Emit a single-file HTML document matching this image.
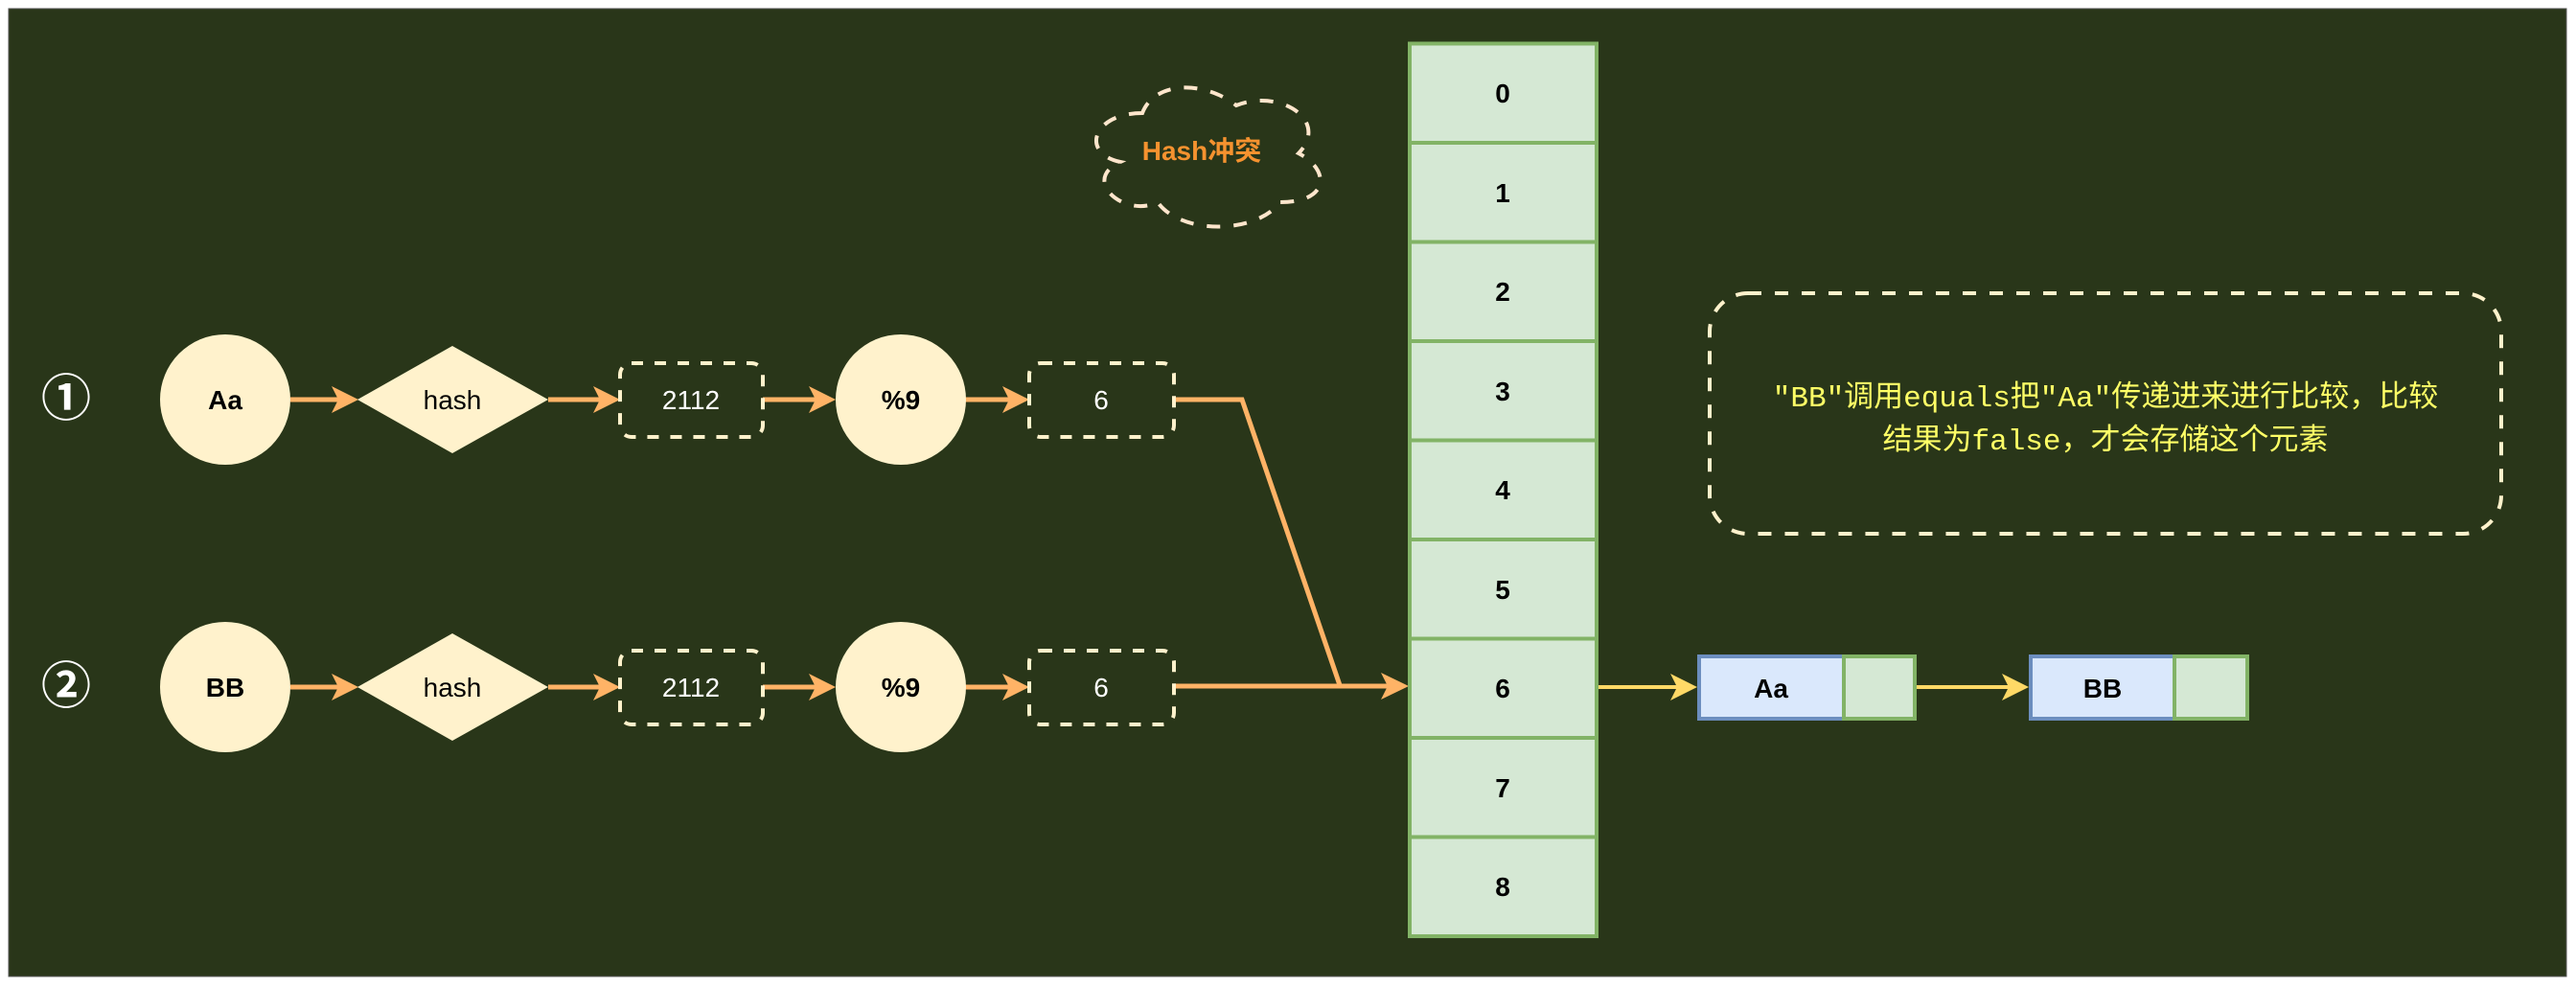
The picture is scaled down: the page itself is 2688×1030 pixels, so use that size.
<!DOCTYPE html>
<html><head><meta charset="utf-8"><style>
html,body{margin:0;padding:0;background:#fff;}
svg{display:block}
text{font-family:"Liberation Sans","Noto Sans CJK SC",sans-serif;}
text.mono{font-family:"Liberation Mono","Noto Sans CJK SC",monospace;}
</style></head><body>
<svg width="2688" height="1030" viewBox="0 0 2688 1030" xmlns="http://www.w3.org/2000/svg">
<rect x="0" y="0" width="2688" height="1030" fill="#ffffff"/>
<rect x="9" y="9" width="2669" height="1010" fill="#293619" stroke="#555" stroke-width="1"/>

<text x="69" y="434" font-size="52" font-weight="bold" fill="#fff" text-anchor="middle">①</text>
<text x="69" y="734" font-size="52" font-weight="bold" fill="#fff" text-anchor="middle">②</text>

<g stroke="#ffb366" stroke-width="5" fill="none">
<line x1="303" y1="417" x2="360" y2="417"/>
<line x1="572" y1="417" x2="632" y2="417"/>
<line x1="796" y1="417" x2="858" y2="417"/>
<line x1="1007" y1="417" x2="1060" y2="417"/>
<polyline points="1225,417 1296,417 1398,715"/>
<line x1="303" y1="717" x2="360" y2="717"/>
<line x1="572" y1="717" x2="632" y2="717"/>
<line x1="796" y1="717" x2="858" y2="717"/>
<line x1="1007" y1="717" x2="1060" y2="717"/>
<line x1="1225" y1="716" x2="1455" y2="716"/>
</g>
<g fill="#ffb366">
<polygon points="374,417 346,403 353,417 346,431"/>
<polygon points="647,417 619,403 626,417 619,431"/>
<polygon points="872,417 844,403 851,417 844,431"/>
<polygon points="1074,417 1046,403 1053,417 1046,431"/>
<polygon points="374,717 346,703 353,717 346,731"/>
<polygon points="647,717 619,703 626,717 619,731"/>
<polygon points="872,717 844,703 851,717 844,731"/>
<polygon points="1074,717 1046,703 1053,717 1046,731"/>
<polygon points="1470,716 1441,702 1448,716 1441,730"/>
</g>

<ellipse cx="235" cy="417" rx="68" ry="68" fill="#fff2cc"/>
<text x="235" y="427" font-size="28" font-weight="bold" text-anchor="middle" fill="#000">Aa</text>
<polygon points="373,417 472,361 572,417 472,473" fill="#fff2cc"/>
<text x="472" y="427" font-size="28" text-anchor="middle" fill="#000">hash</text>
<rect x="647" y="379" width="149" height="77" rx="12" fill="none" stroke="#fff2cc" stroke-width="4" stroke-dasharray="12,12"/>
<text x="721" y="427" font-size="28" text-anchor="middle" fill="#fff">2112</text>
<ellipse cx="940" cy="417" rx="68" ry="68" fill="#fff2cc"/>
<text x="940" y="427" font-size="28" font-weight="bold" text-anchor="middle" fill="#000">%9</text>
<rect x="1074" y="379" width="151" height="77" rx="12" fill="none" stroke="#fff2cc" stroke-width="4" stroke-dasharray="12,12"/>
<text x="1149" y="427" font-size="28" text-anchor="middle" fill="#fff">6</text>

<ellipse cx="235" cy="717" rx="68" ry="68" fill="#fff2cc"/>
<text x="235" y="727" font-size="28" font-weight="bold" text-anchor="middle" fill="#000">BB</text>
<polygon points="373,717 472,661 572,717 472,773" fill="#fff2cc"/>
<text x="472" y="727" font-size="28" text-anchor="middle" fill="#000">hash</text>
<rect x="647" y="679" width="149" height="77" rx="12" fill="none" stroke="#fff2cc" stroke-width="4" stroke-dasharray="12,12"/>
<text x="721" y="727" font-size="28" text-anchor="middle" fill="#fff">2112</text>
<ellipse cx="940" cy="717" rx="68" ry="68" fill="#fff2cc"/>
<text x="940" y="727" font-size="28" font-weight="bold" text-anchor="middle" fill="#000">%9</text>
<rect x="1074" y="679" width="151" height="77" rx="12" fill="none" stroke="#fff2cc" stroke-width="4" stroke-dasharray="12,12"/>
<text x="1149" y="727" font-size="28" text-anchor="middle" fill="#fff">6</text>

<path d="M1192,118 C1140,118 1127,160 1169,169 C1127,188 1174,228 1208,211 C1232,245 1310,245 1336,211 C1388,211 1388,177 1355,160 C1388,126 1336,92 1290,110 C1257,84 1205,84 1192,118 Z" fill="none" stroke="#ffe6cc" stroke-width="4" stroke-dasharray="14,14"/>
<text x="1254" y="167" font-size="28" font-weight="bold" text-anchor="middle" fill="#f5922f">Hash冲突</text>

<g fill="#d5e8d4" stroke="#82b366" stroke-width="4">
<rect x="1471" y="45.5" width="195" height="103.5"/>
<rect x="1471" y="149" width="195" height="103.5"/>
<rect x="1471" y="252.5" width="195" height="103.5"/>
<rect x="1471" y="356" width="195" height="103.5"/>
<rect x="1471" y="459.5" width="195" height="103.5"/>
<rect x="1471" y="563" width="195" height="103.5"/>
<rect x="1471" y="666.5" width="195" height="103.5"/>
<rect x="1471" y="770" width="195" height="103.5"/>
<rect x="1471" y="873.5" width="195" height="103.5"/>
</g>
<g font-size="28" font-weight="bold" text-anchor="middle" fill="#000">
<text x="1568" y="107">0</text>
<text x="1568" y="211">1</text>
<text x="1568" y="314">2</text>
<text x="1568" y="418">3</text>
<text x="1568" y="521">4</text>
<text x="1568" y="625">5</text>
<text x="1568" y="728">6</text>
<text x="1568" y="832">7</text>
<text x="1568" y="935">8</text>
</g>

<g stroke="#ffd966" stroke-width="4">
<line x1="1668" y1="717" x2="1756" y2="717"/>
<line x1="1998" y1="717" x2="2102" y2="717"/>
</g>
<g fill="#ffd966">
<polygon points="1771,717 1743,703 1750,717 1743,731"/>
<polygon points="2117,717 2089,703 2096,717 2089,731"/>
</g>

<rect x="1773" y="685" width="151" height="65" fill="#dae8fc" stroke="#6c8ebf" stroke-width="4"/>
<rect x="1924" y="685" width="74" height="65" fill="#d5e8d4" stroke="#82b366" stroke-width="4"/>
<text x="1848" y="728" font-size="28" font-weight="bold" text-anchor="middle" fill="#000">Aa</text>
<rect x="2119" y="685" width="150" height="65" fill="#dae8fc" stroke="#6c8ebf" stroke-width="4"/>
<rect x="2269" y="685" width="76" height="65" fill="#d5e8d4" stroke="#82b366" stroke-width="4"/>
<text x="2194" y="728" font-size="28" font-weight="bold" text-anchor="middle" fill="#000">BB</text>

<rect x="1784" y="306" width="826" height="251" rx="40" fill="none" stroke="#fff2cc" stroke-width="4" stroke-dasharray="14,14"/>
<text class="mono" x="2197" y="424" font-size="31" text-anchor="middle" fill="#ffff66">"BB"调用equals把"Aa"传递进来进行比较，比较</text>
<text class="mono" x="2197" y="469" font-size="31" text-anchor="middle" fill="#ffff66">结果为false，才会存储这个元素</text>
</svg>
</body></html>
